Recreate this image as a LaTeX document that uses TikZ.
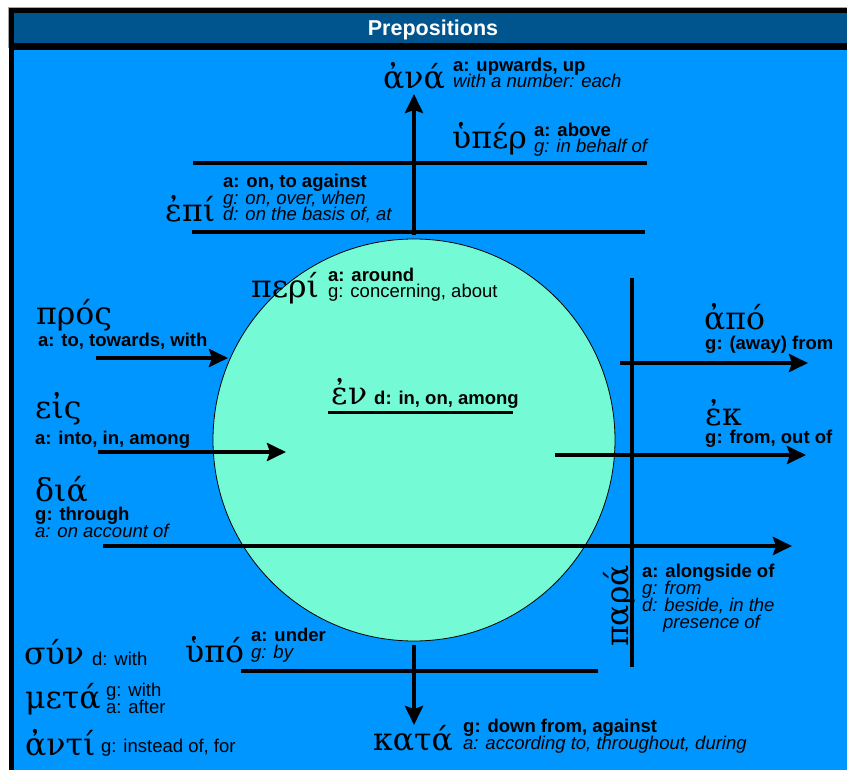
\documentclass[tikz,border=0pt]{standalone}
\usepackage{fontspec}
\setsansfont{Liberation Sans}
\newfontfamily\greekfont{DejaVu Serif}
\usetikzlibrary{arrows.meta}
\definecolor{titleblue}{HTML}{00558F}
\definecolor{skyblue}{HTML}{0096FF}
\definecolor{mint}{HTML}{74FBD5}
% let the gloss lines sit closer than their letters would allow
\setlength{\lineskiplimit}{-30pt}
\tikzset{
  title text/.style={
    anchor=base, inner sep=0pt, text=white,
    font=\sffamily\bfseries\fontsize{21.5}{24}\selectfont
  },
  sphere/.style={
    circle, draw=black, fill=mint, line width=0.8pt,
    minimum size=402pt, inner sep=0pt
  },
  greek word/.style={
    anchor=base west, inner sep=0pt,
    font=\greekfont\fontsize{31.5}{32}\selectfont
  },
  % multi-line glosses: the anchor is the baseline of the last line
  gloss/.style={
    anchor=base west, inner sep=0pt, align=left,
    font=\sffamily\fontsize{18.5}{16.8}\selectfont
  },
  prep bar/.style={draw=black, line width=4pt},
  prep arrow/.style={
    prep bar, -{Stealth[length=19pt,width=18pt,inset=3pt]}
  }
}

\begin{document}
\begin{tikzpicture}[x=1pt,y=-1pt]
  \useasboundingbox (0,0) rectangle (847,770);
  % frame and title bar
  \fill[black] (9,8) rectangle (847,770);
  \fill[titleblue] (14,13) rectangle (847,43);
  \fill[skyblue] (14,50) rectangle (847,770);
  \draw[gray!70, line width=1pt] (8.5,48) -- (8.5,7.5) -- (847,7.5);
  \node[title text] (title) at (433,36) {Prepositions};

  \node[sphere] (sphere) at (414,440) {};

  % end points of the bars and arrows
  \coordinate (ana from) at (414,235);  \coordinate (ana to) at (414,94);
  \coordinate (hyper w) at (193,163);   \coordinate (hyper e) at (647,163);
  \coordinate (epi w) at (192,232);     \coordinate (epi e) at (645,232);
  \coordinate (pros from) at (96,358);  \coordinate (pros to) at (228,358);
  \coordinate (eis from) at (98,452);   \coordinate (eis to) at (286,452);
  \coordinate (dia from) at (103,546);  \coordinate (dia to) at (792,546);
  \coordinate (en w) at (328,412);      \coordinate (en e) at (513,412);
  \coordinate (apo from) at (620,363);  \coordinate (apo to) at (808,363);
  \coordinate (ek from) at (555,455);   \coordinate (ek to) at (806,455);
  \coordinate (para n) at (632,278);    \coordinate (para s) at (632,667);
  \coordinate (hypo w) at (241,671);    \coordinate (hypo e) at (598,671);
  \coordinate (kata from) at (414,645); \coordinate (kata to) at (414,725);

  \draw[prep arrow] (ana from) -- (ana to);
  \draw[prep bar] (hyper w) -- (hyper e);
  \draw[prep bar] (epi w) -- (epi e);
  \draw[prep arrow] (pros from) -- (pros to);
  \draw[prep arrow] (eis from) -- (eis to);
  \draw[prep arrow] (dia from) -- (dia to);
  \draw[prep bar, line width=3pt] (en w) -- (en e);
  \draw[prep arrow] (apo from) -- (apo to);
  \draw[prep arrow] (ek from) -- (ek to);
  \draw[prep bar] (para n) -- (para s);
  \draw[prep bar] (hypo w) -- (hypo e);
  \draw[prep arrow] (kata from) -- (kata to);

  % words with their case glosses
  \node[greek word] (ana) at (383,89) {ἀνά};
  \node[gloss] (ana gloss) at (453,88) {\textbf{a: upwards, up}\\\textit{with a number: each}};
  \node[greek word] (hyper) at (452,149) {ὑπέρ};
  \node[gloss] (hyper gloss) at (534,153) {\textbf{a: above}\\\textit{g: in behalf of}};
  \node[greek word] (epi) at (165,222) {ἐπί};
  \node[gloss] (epi gloss) at (223,221) {\textbf{a: on, to against}\\\textit{g: on, over, when}\\\textit{d: on the basis of, at}};
  \node[greek word] (peri) at (251,298) {περί};
  \node[gloss] (peri gloss) at (328,298) {\textbf{a: around}\\g: concerning, about};
  \node[greek word] (en) at (331,404) {ἐν};
  \node[gloss] (en gloss) at (374,404) {\textbf{d: in, on, among}};
  \node[greek word] (pros) at (36,325) {πρός};
  \node[gloss] (pros gloss) at (38,347) {\textbf{a: to, towards, with}};
  \node[greek word] (eis) at (35,418) {εἰς};
  \node[gloss] (eis gloss) at (35,444) {\textbf{a: into, in, among}};
  \node[greek word] (dia) at (35,501) {διά};
  \node[gloss] (dia gloss) at (35,537) {\textbf{g: through}\\\textit{a: on account of}};
  \node[greek word] (apo) at (704,330) {ἀπό};
  \node[gloss] (apo gloss) at (705,350) {\textbf{g: (away) from}};
  \node[greek word] (ek) at (705,425) {ἐκ};
  \node[gloss] (ek gloss) at (705,443) {\textbf{g: from, out of}};
  \node[greek word, rotate=90] (para) at (628,647) {παρά};
  \node[gloss] (para gloss) at (642,628) {\textbf{a: alongside of}\\\textit{g: from}\\\textit{d: beside, in the}\\\hspace*{21pt}\textit{presence of}};
  \node[greek word] (hypo) at (185,662) {ὑπό};
  \node[gloss] (hypo gloss) at (251,658) {\textbf{a: under}\\\textit{g: by}};
  \node[greek word] (kata) at (373,750) {κατά};
  \node[gloss] (kata gloss) at (463,749) {\textbf{g: down from, against}\\\textit{a: according to, throughout, during}};
  \node[greek word] (syn) at (24,664) {σύν};
  \node[gloss] (syn gloss) at (92,665) {d: with};
  \node[greek word] (meta) at (25,708) {μετά};
  \node[gloss] (meta gloss) at (106,713) {g: with\\a: after};
  \node[greek word] (anti) at (25,755) {ἀντί};
  \node[gloss] (anti gloss) at (101,752) {g: instead of, for};
\end{tikzpicture}
\end{document}
